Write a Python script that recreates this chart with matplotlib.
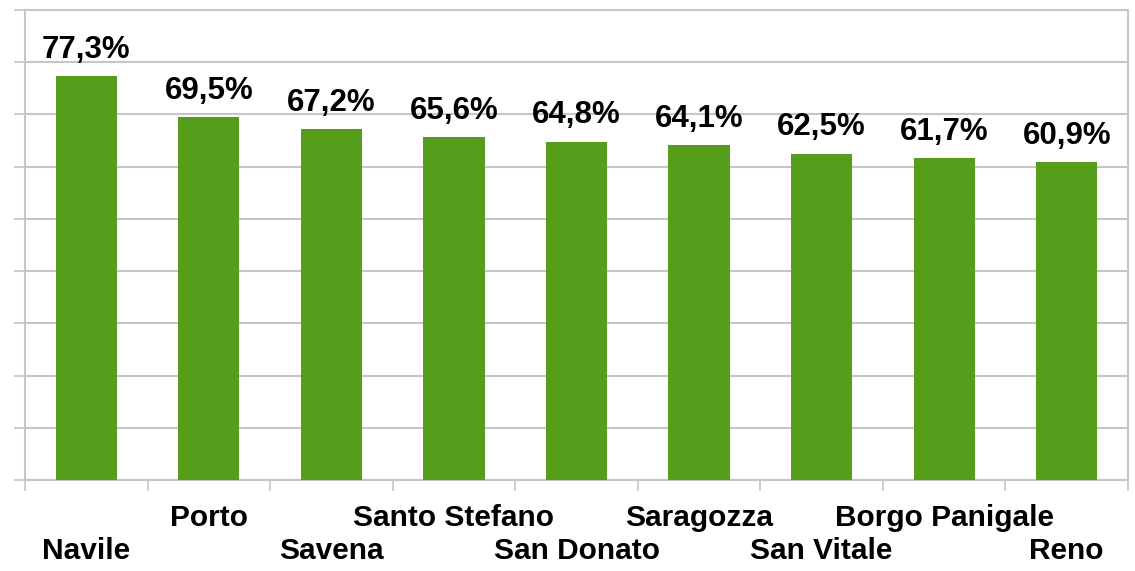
import matplotlib.pyplot as plt
import numpy as np

# share of each quartiere (percent)
quartieri = ["Navile", "Porto", "Savena", "Santo Stefano", "San Donato",
             "Saragozza", "San Vitale", "Borgo Panigale", "Reno"]
valori = [77.3, 69.5, 67.2, 65.6, 64.8, 64.1, 62.5, 61.7, 60.9]

plt.rcParams['font.family'] = ['Liberation Sans', 'DejaVu Sans']
grid_col = '#c6c6c6'

fig = plt.figure(figsize=(11.35, 5.71), dpi=100)
ax = fig.add_axes([25/1135, 1 - 480/571, 1103/1135, 470/571])

x = np.arange(len(quartieri))
bars = ax.bar(x, valori, width=0.5, color='#579d1c', zorder=3)

ax.set_xlim(-0.5, len(quartieri) - 0.5)
ax.set_ylim(0, 90)
ax.set_yticks(np.arange(0, 91, 10))
ax.set_yticklabels([])
ax.yaxis.grid(True, color=grid_col, linewidth=1.5, zorder=0)
ax.tick_params(axis='y', direction='out', length=8, width=1.2, color=grid_col)

# labels staggered on two rows, ticks between categories
ax.set_xticks(x)
ax.set_xticklabels(quartieri, fontsize=21.5, fontweight='bold')
ax.tick_params(axis='x', which='major', length=0)
for i, t in enumerate(ax.xaxis.get_major_ticks()):
    t.set_pad(41 if i % 2 == 0 else 17)
ax.set_xticks(np.arange(-0.5, len(quartieri)), minor=True)
ax.tick_params(axis='x', which='minor', direction='out', length=8, width=1.2,
               color=grid_col)

for sp in ax.spines.values():
    sp.set_color(grid_col)
    sp.set_linewidth(1.5)

for b, v in zip(bars, valori):
    ax.annotate(f"{v:.1f}%".replace('.', ','),
                (b.get_x() + b.get_width() / 2, v),
                xytext=(0, 8), textcoords='offset points',
                ha='center', va='bottom', fontsize=22.5, fontweight='bold')

fig.savefig('out.png', dpi=100)
